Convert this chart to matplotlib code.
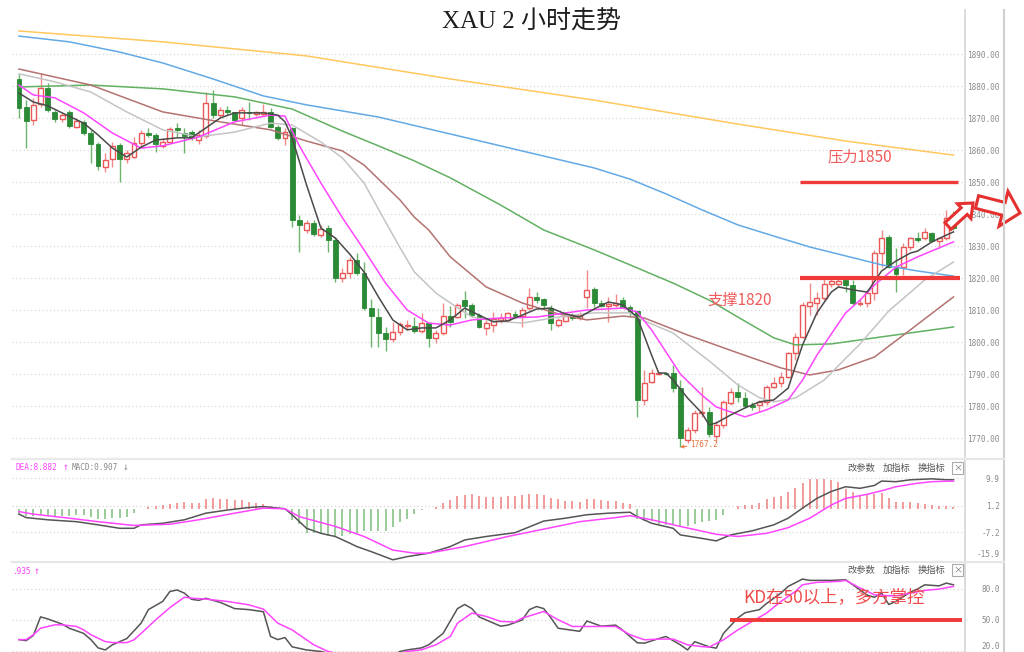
import numpy as np
import matplotlib
matplotlib.use("Agg")
import matplotlib.pyplot as plt
from matplotlib.patches import FancyArrow

# ---------------- data (2-hour XAU candles, index = bar number) ----------------
opens = [1882.2,1873.4,1869.4,1874.4,1879.4,1871.9,1869.7,1871.9,1867.2,1868.8,
         1865.3,1861.9,1854.7,1857.2,1861.6,1857.2,1857.8,1862.2,1865.3,1864.7,
         1861.3,1862.5,1866.9,1865.3,1865.6,1863.1,1864.4,1874.7,1870.9,1872.5,
         1871.9,1870.0,1871.9,1871.3,1871.3,1871.9,1867.2,1863.8,1866.9,1838.1,
         1835.0,1837.2,1833.4,1835.6,1831.9,1820.0,1821.6,1825.6,1821.6,1810.6,
         1807.8,1802.8,1800.9,1803.1,1805.0,1805.0,1803.4,1805.9,1801.3,1802.8,
         1808.1,1807.8,1813.1,1811.6,1808.4,1804.4,1805.3,1806.9,1806.9,1808.8,
         1808.1,1810.6,1814.1,1813.4,1810.6,1805.3,1806.6,1808.1,1807.5,1814.1,
         1816.6,1812.2,1811.3,1811.6,1813.1,1811.0,1809.7,1781.9,1787.5,1790.0,
         1790.3,1790.3,1785.6,1769.4,1772.5,1777.8,1778.1,1770.6,1774.1,1780.9,
         1784.4,1782.5,1780.3,1780.3,1781.3,1785.9,1787.2,1789.1,1796.6,1801.6,
         1811.3,1812.2,1813.8,1818.1,1818.1,1819.4,1817.8,1811.9,1812.2,1815.3,
         1827.8,1832.8,1823.4,1823.4,1829.7,1832.5,1832.5,1834.1,1831.6,1832.5,
         1838.4]
closes = [1873.1,1869.1,1874.1,1879.4,1872.5,1869.7,1870.9,1867.5,1869.1,1865.3,
          1861.9,1855.0,1856.9,1861.3,1857.2,1859.1,1862.2,1865.3,1864.7,1861.9,
          1862.5,1866.6,1866.3,1864.4,1863.8,1864.7,1874.7,1870.9,1872.5,1871.9,
          1869.4,1872.5,1871.6,1871.9,1871.9,1867.2,1863.8,1865.6,1838.1,1836.6,
          1837.2,1833.8,1835.3,1831.9,1820.0,1821.6,1825.6,1821.6,1810.6,1808.1,
          1802.8,1800.9,1803.1,1805.6,1805.3,1803.4,1805.9,1801.3,1802.8,1808.1,
          1806.3,1811.6,1811.3,1808.4,1804.7,1805.9,1807.2,1807.5,1809.1,1808.1,
          1810.0,1814.1,1813.1,1811.6,1805.9,1806.9,1808.1,1807.5,1808.4,1816.3,
          1812.2,1811.3,1811.9,1812.2,1811.0,1809.4,1781.9,1787.2,1790.3,1790.3,
          1790.0,1785.6,1770.0,1772.5,1777.8,1778.1,1771.3,1774.1,1781.3,1784.4,
          1782.8,1780.0,1779.7,1781.3,1785.9,1787.2,1789.1,1796.6,1801.6,1811.6,
          1812.5,1813.8,1818.1,1819.1,1819.1,1817.8,1812.2,1812.2,1815.3,1827.8,
          1832.5,1823.4,1821.3,1829.7,1832.5,1831.9,1834.4,1831.6,1832.5,1838.8,
          1835.6]
highs = [1883.8,1875.6,1876.3,1884.1,1880.9,1872.5,1871.6,1872.5,1870.0,1869.4,
         1866.3,1862.5,1859.1,1862.5,1862.2,1860.0,1864.1,1866.3,1866.9,1865.3,
         1863.8,1867.2,1868.4,1866.9,1866.3,1866.3,1878.1,1878.8,1873.4,1873.8,
         1871.9,1873.4,1875.0,1872.2,1874.4,1873.1,1867.8,1866.9,1867.2,1839.7,
         1838.1,1838.1,1836.6,1836.6,1832.8,1823.1,1826.6,1827.8,1825.0,1813.4,
         1810.6,1804.7,1806.3,1806.3,1806.9,1807.8,1809.1,1806.3,1803.8,1812.2,
         1811.3,1812.2,1815.9,1812.2,1809.1,1806.9,1809.4,1809.1,1809.4,1809.7,
         1811.0,1816.9,1815.6,1813.8,1811.6,1807.5,1809.4,1809.1,1809.4,1822.5,
         1817.2,1813.1,1814.1,1815.0,1814.1,1811.6,1810.0,1791.3,1791.6,1790.6,
         1790.6,1792.8,1788.1,1773.4,1778.8,1785.9,1779.7,1775.3,1781.9,1785.6,
         1787.2,1784.4,1781.3,1781.9,1786.6,1789.1,1790.6,1796.9,1802.8,1812.5,
         1818.4,1815.6,1819.7,1820.3,1820.0,1820.0,1819.4,1813.4,1816.3,1828.8,
         1835.0,1833.4,1829.4,1830.9,1832.8,1834.4,1835.6,1834.4,1832.8,1841.3,
         1840.9]
lows = [1870.0,1860.6,1867.8,1873.4,1871.9,1868.8,1868.8,1866.9,1866.9,1864.7,
        1855.9,1853.8,1853.1,1854.7,1850.0,1855.9,1857.5,1860.9,1864.1,1859.4,
        1860.6,1862.2,1864.1,1859.1,1863.1,1861.9,1863.8,1870.0,1870.0,1870.9,
        1869.1,1867.8,1869.4,1870.6,1870.6,1866.9,1863.1,1861.6,1836.0,1828.1,
        1834.1,1833.1,1832.8,1828.1,1818.8,1818.8,1820.0,1820.9,1810.0,1798.4,
        1798.4,1797.2,1800.0,1802.2,1803.8,1802.8,1802.8,1798.4,1799.7,1802.2,
        1804.7,1807.5,1807.5,1807.8,1804.4,1802.2,1803.1,1805.9,1806.3,1807.5,
        1804.7,1810.0,1812.2,1810.6,1803.8,1804.7,1806.3,1806.9,1806.9,1810.6,
        1811.0,1811.0,1806.3,1811.0,1810.6,1807.8,1776.6,1780.3,1787.2,1789.7,
        1789.7,1784.4,1767.2,1768.4,1771.6,1776.6,1770.3,1768.8,1773.1,1780.3,
        1781.3,1779.4,1778.8,1778.1,1780.3,1785.6,1785.9,1788.8,1794.4,1801.3,
        1808.4,1808.4,1813.1,1817.2,1817.2,1815.6,1811.6,1811.3,1811.0,1813.1,
        1823.4,1823.1,1815.6,1820.9,1828.8,1831.3,1831.9,1831.3,1829.4,1831.9,
        1835.0]

# moving-average lines (bar index, price)
ma5_idx = [0,2,4,6,9,11,13,15,17,19,22,24,26,28,30,34,36,37,38,40,42,44,46,48,50,52,54,56,58,60,
           62,64,66,68,70,72,74,76,78,80,82,84,86,88,89,90,91,93,95,96,97,99,101,103,105,107,109,
           111,113,114,116,118,120,122,124,125,127,129,130]
ma5 = [1877.8,1875.0,1873.8,1871.6,1868.4,1864.7,1860.6,1857.8,1860.9,1863.1,
       1863.8,1863.8,1866.9,1870.0,1871.6,1871.6,1870.9,1868.8,1863.8,1849.1,
       1835.6,1832.5,1827.5,1821.9,1814.1,1806.9,1803.8,1804.4,1804.4,1806.9,
       1810.6,1808.4,1806.3,1806.6,1808.4,1810.3,1810.6,1808.8,1807.8,1810.3,
       1812.5,1811.6,1807.8,1795.9,1790.3,1790.3,1788.1,1782.5,1777.8,1774.1,
       1774.7,1777.2,1779.4,1781.3,1781.9,1785.6,1799.1,1809.1,1815.6,1817.2,
       1816.3,1815.6,1822.2,1825.3,1827.8,1828.4,1831.3,1833.4,1834.4]
ma10_idx = [0,2,5,9,13,17,20,25,30,35,37,39,42,45,48,51,54,57,60,63,67,72,79,84,86,88,90,92,95,97,
            101,104,107,109,111,113,115,117,119,122,125,128,130]
ma10 = [1880.3,1877.2,1876.3,1871.6,1865.3,1860.6,1861.3,1864.1,1868.8,1870.9,
        1870.6,1861.3,1849.7,1838.8,1828.8,1818.4,1810.0,1805.9,1805.3,1806.9,
        1807.5,1807.8,1810.0,1810.6,1809.4,1803.8,1796.9,1790.0,1783.4,1779.7,
        1776.6,1778.8,1781.9,1788.1,1795.9,1802.5,1809.1,1813.1,1817.8,1823.4,
        1826.6,1829.4,1831.3]
ma20_idx = [0,5,10,15,20,25,30,35,38,42,45,48,51,53,55,58,60,63,66,70,75,80,85,87,91,96,100,103,
            105,108,112,117,121,126,130]
ma20 = [1883.8,1881.3,1878.1,1871.9,1866.3,1864.1,1865.6,1868.4,1867.8,1862.5,
        1857.5,1849.7,1837.5,1829.5,1821.9,1815.3,1812.2,1807.8,1806.6,1805.9,
        1807.8,1809.1,1809.1,1806.6,1802.8,1794.1,1786.6,1782.6,1781.3,1782.5,
        1788.1,1799.4,1809.7,1819.4,1825.0]
ma30_idx = [0,10,20,28,35,40,45,48,53,55,57,60,65,70,75,79,84,87,93,100,106,110,114,119,124,130]
ma30 = [1885.3,1880.3,1871.9,1868.8,1866.3,1862.8,1859.7,1855.3,1844.4,1839.0,1835.0,
        1826.6,1817.2,1812.2,1808.8,1806.9,1808.1,1807.5,1802.2,1796.6,1791.9,
        1789.7,1791.3,1795.3,1803.8,1814.1]
ma60_idx = [0,10,20,30,38,45,50,55,60,67,73,80,85,91,96,100,105,108,113,120,130]
ma60 = [1879.7,1880.3,1879.1,1876.6,1872.8,1865.9,1861.3,1856.6,1851.3,1842.8,
        1835.0,1828.8,1824.1,1818.4,1813.1,1807.8,1801.3,1799.1,1799.4,1801.6,1804.7]
ma120_idx = [0,7,14,20,27,34,40,50,60,70,80,85,90,95,100,105,110,115,120,125,130]
ma120 = [1895.6,1893.8,1890.6,1887.2,1882.2,1876.9,1874.1,1870.3,1865.0,1859.7,
         1854.4,1850.9,1846.3,1841.3,1836.6,1833.1,1829.7,1826.9,1824.1,1822.2,1820.6]
ma250_idx = [0,20,40,60,80,100,115,130]
ma250 = [1897.2,1893.8,1889.4,1882.2,1875.6,1868.1,1862.8,1858.4]

# MACD panel
macd_hist = [-1.9,-2.2,-2.2,-1.9,-1.7,-2.1,-2.1,-2.1,-1.7,-1.9,-2.4,-3.2,-3.2,-2.8,-2.7,-2.3,-1.1,
             0.0,
             0.7,1.1,1.3,1.8,2.1,2.3,2.1,2.1,3.4,3.6,3.4,3.4,2.9,2.9,2.5,2.1,1.8,1.1,0.4,
             0.0,
             -3.5,-4.5,-7.4,-7.4,-7.7,-8.3,-8.3,-8.3,-7.7,-7.4,-7.0,-7.0,-7.0,-7.0,-5.6,-4.0,-3.0,-1.4,-0.3,
             0.0,
             0.7,2.0,2.9,4.2,4.7,5.0,4.2,3.9,3.9,3.9,4.1,
             4.4,4.7,5.0,5.0,4.7,3.6,3.2,2.7,2.7,2.3,3.2,3.2,2.9,2.7,2.6,2.1,1.8,
             -3.2,-3.8,-3.8,-4.5,-4.8,-5.0,-5.6,-5.3,-4.5,-4.0,-3.8,-3.5,-1.9,
             0.0,
             1.1,1.3,1.5,2.1,3.2,3.9,4.4,5.5,6.8,8.5,9.5,9.5,9.5,9.2,8.7,6.6,5.5,4.7,4.7,5.0,
             5.3,3.6,2.5,2.3,2.3,2.1,1.8,1.3,1.1,1.1,0.7]
dif_idx = [0,1,4,8,11,14,16,17,20,23,26,29,32,34,37,38,40,42,44,46,47,49,52,54,57,60,62,65,69,73,
           76,79,82,85,86,88,91,92,95,97,99,102,105,107,109,111,113,115,117,119,120,122,124,127,129,130]
dif = [-1.5,-2.6,-3.3,-3.9,-4.9,-6.0,-6.0,-4.9,-4.4,-3.3,-1.2,-0.2,0.6,0.9,0.2,-1.7,-6.0,-7.6,-8.6,-10.7,
       -11.8,-13.4,-16.0,-15.0,-13.9,-11.8,-9.7,-8.6,-7.4,-3.7,-2.8,-1.7,-1.2,-0.9,-2.3,-4.4,-6.0,-8.1,-9.2,-10.0,
       -8.1,-6.8,-4.9,-2.8,0.4,3.5,5.7,7.2,6.7,7.6,9.0,8.8,9.4,9.7,9.4,9.4]
dea_idx = [0,2,7,11,16,21,25,30,34,37,39,44,48,52,55,57,62,68,74,78,83,85,88,92,97,100,104,107,110,
           113,115,118,120,122,125,127,130]
dea = [-0.7,-1.5,-2.8,-3.9,-5.1,-4.7,-3.3,-1.2,0.4,0.2,-2.3,-5.4,-8.6,-12.9,-13.9,-13.9,-11.8,-8.6,-5.8,
       -3.9,-2.6,-2.0,-3.3,-5.4,-7.9,-8.6,-7.6,-5.8,-2.8,1.4,3.5,4.8,5.9,7.2,8.3,8.8,9.0]
macd_ticks = [9.9, 1.2, -7.2, -15.9]

# KD panel
k_idx = [0,1,2,3,4,6,7,9,10,11,12,13,14,15,17,18,20,21,22,23,24,25,26,28,30,32,34,35,36,37,
         38,40,42,45,48,51,53,54,56,57,59,61,62,63,64,65,67,68,70,71,72,73,74,75,77,78,79,81,83,84,
         86,87,89,90,92,93,94,96,97,98,100,101,103,104,106,107,109,110,113,115,116,118,119,120,121,
         122,124,125,126,128,129,130]
k_val = [31,30,35,53,51,46,42,37,31,23,21,26,29,32,47,60,68,77.6,79,76,70,69,71,67,61,60,58,34,31,33,
         24,21,19.5,14,10,12,19.5,21,23,26,37,61,65,61,53,50,44,45,50,60,63,61,52,42,40,39,49,44,45,40,
         28,27.5,32,34,26,21,29,24,22.7,37,52,57,60,66,76,82.5,89.6,88.3,88.3,88.9,84,74,72,76,65,
         68,77,80,84,83,85.7,84]
d_idx = [0,1,2,3,5,6,8,9,10,12,13,15,16,17,19,21,23,24,26,29,32,34,36,38,40,41,43,46,50,54,
         56,58,60,61,63,65,67,69,70,73,75,77,79,82,83,85,87,89,91,93,95,96,98,100,102,104,106,108,109,111,
         114,115,117,119,121,122,124,126,128,130]
d_val = [31,31,35.7,42,45.3,45.3,43.7,40.4,35.7,29.1,28.1,28.1,30.8,37,50,62,72,71.1,70.2,67.9,
         64.6,60.5,46.9,40.4,30.8,26,19.5,15,12,19.5,21.1,26,34,46.9,56.7,53.4,48.6,48,51.8,58.2,
         50.2,43.7,43.7,43.7,43.7,35.7,30.8,31.5,31.5,26,24.2,23.7,30.8,40.4,48.6,56.7,67.9,77.6,84.1,86.4,
         87.3,88.3,80.9,74.4,73.4,73.4,76,78.6,79.9,82.5]
kd_ticks = [80, 50, 20]

resistance = 1850
support = 1820
kd_level = 50

# ---------------- figure ----------------
W, H = 1024, 652
fig = plt.figure(figsize=(W / 100, H / 100), dpi=100)
fig.patch.set_facecolor("white")


def box(l, t, r, b):
    return [l / W, 1 - b / H, (r - l) / W, (b - t) / H]


ax = fig.add_axes(box(12, 10, 965, 458))
axm = fig.add_axes(box(12, 459, 965, 562), sharex=ax)
axk = fig.add_axes(box(12, 562, 965, 652), sharex=ax)

RED = "#ea5757"
RED_W = "#f08a8a"
GREEN = "#2b8a35"
GREEN_W = "#6cb46c"
LINE_RED = "#f03a3a"
MONO = "DejaVu Sans Mono"
CJK = ["Noto Sans CJK SC", "DejaVu Sans"]

o = np.array(opens)
c = np.array(closes)
hi = np.array(highs)
lo = np.array(lows)
x = np.arange(len(c))
up = c >= o
body = np.maximum(np.abs(c - o), 0.3)

ax.vlines(x[up], lo[up], hi[up], color=RED_W, lw=1, zorder=2)
ax.vlines(x[~up], lo[~up], hi[~up], color=GREEN_W, lw=1, zorder=2)
ax.bar(x[up], body[up], bottom=np.minimum(o, c)[up], width=0.68,
       facecolor="white", edgecolor=RED, lw=1, zorder=2.5)
ax.bar(x[~up], body[~up], bottom=np.minimum(o, c)[~up], width=0.68,
       facecolor=GREEN, edgecolor=GREEN, lw=0.6, zorder=2.5)

ax.plot(ma250_idx, ma250, color="#ffc75e", lw=1.1, zorder=3)
ax.plot(ma120_idx, ma120, color="#62a9e6", lw=1.1, zorder=3)
ax.plot(ma60_idx, ma60, color="#62b062", lw=1.1, zorder=3)
ax.plot(ma30_idx, ma30, color="#b47272", lw=1.1, zorder=3)
ax.plot(ma20_idx, ma20, color="#c4c4c4", lw=1.1, zorder=3)
ax.plot(ma10_idx, ma10, color="#ff45ff", lw=1.1, zorder=3.1)
ax.plot(ma5_idx, ma5, color="#4a4a4a", lw=1.1, zorder=3.2)

ax.set_xlim(-0.97, 131.6)
ax.set_ylim(1763.75, 1903.75)
price_ticks = np.arange(1770, 1891, 10)
for t in price_ticks:
    ax.axhline(t, color="#d6d6d6", lw=0.9, ls=(0, (1, 2)), zorder=0)
ax.set_yticks(price_ticks)
ax.set_yticklabels([f"{t:.2f}" for t in price_ticks])

# resistance / support
ax.plot([108.6, 130.6], [resistance, resistance], color=LINE_RED, lw=2.4, zorder=5,
        solid_capstyle="butt")
ax.plot([108.6, 130.9], [support, support], color=LINE_RED, lw=3.0, zorder=5,
        solid_capstyle="butt")
ax.text(112.5, 1857.8, f"压力{resistance}", color="#f05a5a", fontsize=11, family=CJK,
        ha="left", va="center", zorder=6)
ax.text(95.8, 1813.1, f"支撑{support}", color="#f05a5a", fontsize=11, family=CJK,
        ha="left", va="center", zorder=6)
low_i = int(np.argmin(lo))
ax.annotate(f"{lo[low_i]:.1f}", xy=(low_i, lo[low_i]), xytext=(low_i + 1.3, lo[low_i] + 0.7),
            fontsize=5.6, family=MONO, color="#e8743b", va="center", ha="left",
            arrowprops=dict(arrowstyle="->", color="#e8743b", lw=0.7, mutation_scale=5,
                            shrinkA=0, shrinkB=0), zorder=6)

# MACD panel
hist = np.array(macd_hist)
cols = np.where(hist > 0, "#f08a8a", "#86c486")
axm.vlines(x, 0, hist, colors=cols, lw=1.2, zorder=2)
axm.plot(dif_idx, dif, color="#555555", lw=1.1, zorder=3)
axm.plot(dea_idx, dea, color="#ff45ff", lw=1.1, zorder=3)
axm.set_ylim(-16.7, 16.0)
for t in macd_ticks[:3]:
    axm.axhline(t, color="#d6d6d6", lw=0.9, ls=(0, (1, 2)), zorder=0)
axm.set_yticks(macd_ticks)
axm.set_yticklabels([f"{t:.1f}" for t in macd_ticks])

# KD panel
axk.plot(k_idx, k_val, color="#555555", lw=1.1, zorder=3)
axk.plot(d_idx, d_val, color="#ff45ff", lw=1.1, zorder=3)
axk.set_ylim(19.0, 106.1)
for t in kd_ticks:
    axk.axhline(t, color="#d6d6d6", lw=0.9, ls=(0, (1, 2)), zorder=0)
axk.set_yticks(kd_ticks)
axk.set_yticklabels([f"{t:.1f}" for t in kd_ticks])
axk.plot([98.9, 131.2], [kd_level, kd_level], color=LINE_RED, lw=2.8, zorder=5,
         solid_capstyle="butt")
axk.text(100.7, 72.3, f"KD在{kd_level}以上，多方掌控", color="#f04a4a", fontsize=12.5,
         family=CJK, ha="left", va="center", zorder=6)

for a in (ax, axm, axk):
    a.set_facecolor("white")
    a.yaxis.tick_right()
    a.tick_params(axis="y", length=0, pad=25, labelsize=5.6, labelcolor="#888888")
    a.tick_params(axis="x", length=0, labelbottom=False, bottom=False)
    for lab in a.get_yticklabels():
        lab.set_family(MONO)
        lab.set_horizontalalignment("right")
    for s in ("top", "left", "bottom"):
        a.spines[s].set_visible(False)
    a.spines["right"].set_color("#d4d4d4")
    a.spines["right"].set_linewidth(1.2)

# keep the lowest labels of the lower panels inside the frame
axm.get_yticklabels()[-1].set_verticalalignment("bottom")
axk.get_yticklabels()[-1].set_verticalalignment("bottom")

# overlay in pixel coordinates for frame, headers, arrows and title
ov = fig.add_axes([0, 0, 1, 1])
ov.set_xlim(0, W)
ov.set_ylim(H, 0)
ov.axis("off")
ov.patch.set_visible(False)
ov.set_zorder(10)

ov.plot([1004, 1004], [10, H], color="#cfcfcf", lw=1.5)
ov.plot([12, 1004], [459, 459], color="#e6e6e6", lw=1.5)
ov.plot([12, 1004], [562, 562], color="#e6e6e6", lw=1.5)
ov.plot([12, 965], [458, 458], color="#ececec", lw=1)

fig.text(531 / W, 1 - 22 / H, "XAU 2 小时走势", ha="center", va="center", fontsize=18,
         family=["Liberation Serif", "Noto Sans CJK SC"], color="#1e1e1e")

ov.text(16, 467, "DEA:8.882", color="#ff40ff", fontsize=5.6, family=MONO, va="center")
ov.text(63, 467, "↑", color="#ff40ff", fontsize=7, family=MONO, va="center")
ov.text(72, 467, "MACD:0.907", color="#888888", fontsize=5.6, family=MONO, va="center")
ov.text(123, 467, "↓", color="#888888", fontsize=7, family=MONO, va="center")
ov.text(12, 571, ".935", color="#ff40ff", fontsize=5.6, family=MONO, va="center")
ov.text(34, 571, "↑", color="#ff40ff", fontsize=7, family=MONO, va="center")

for yy in (468, 570):
    ov.text(847, yy, "改参数", color="#555555", fontsize=6.7, family=CJK, va="center")
    ov.text(883, yy, "加指标", color="#555555", fontsize=6.7, family=CJK, va="center")
    ov.text(918, yy, "换指标", color="#555555", fontsize=6.7, family=CJK, va="center")
    ov.text(957.5, yy, "×", color="#777777", fontsize=6.5, family=CJK, va="center", ha="center",
            bbox=dict(boxstyle="square,pad=0.12", fc="white", ec="#aaaaaa", lw=0.8))

ov.add_patch(FancyArrow(948, 226, 25, -23, width=9, head_width=20, head_length=12,
                        length_includes_head=True, fc="white", ec="#e53030", lw=2.2))
ov.add_patch(FancyArrow(977, 202, 43, 11, width=13, head_width=36, head_length=17,
                        length_includes_head=True, fc="white", ec="#e53030", lw=2.2))

fig.savefig("out.png", dpi=100, facecolor="white")
